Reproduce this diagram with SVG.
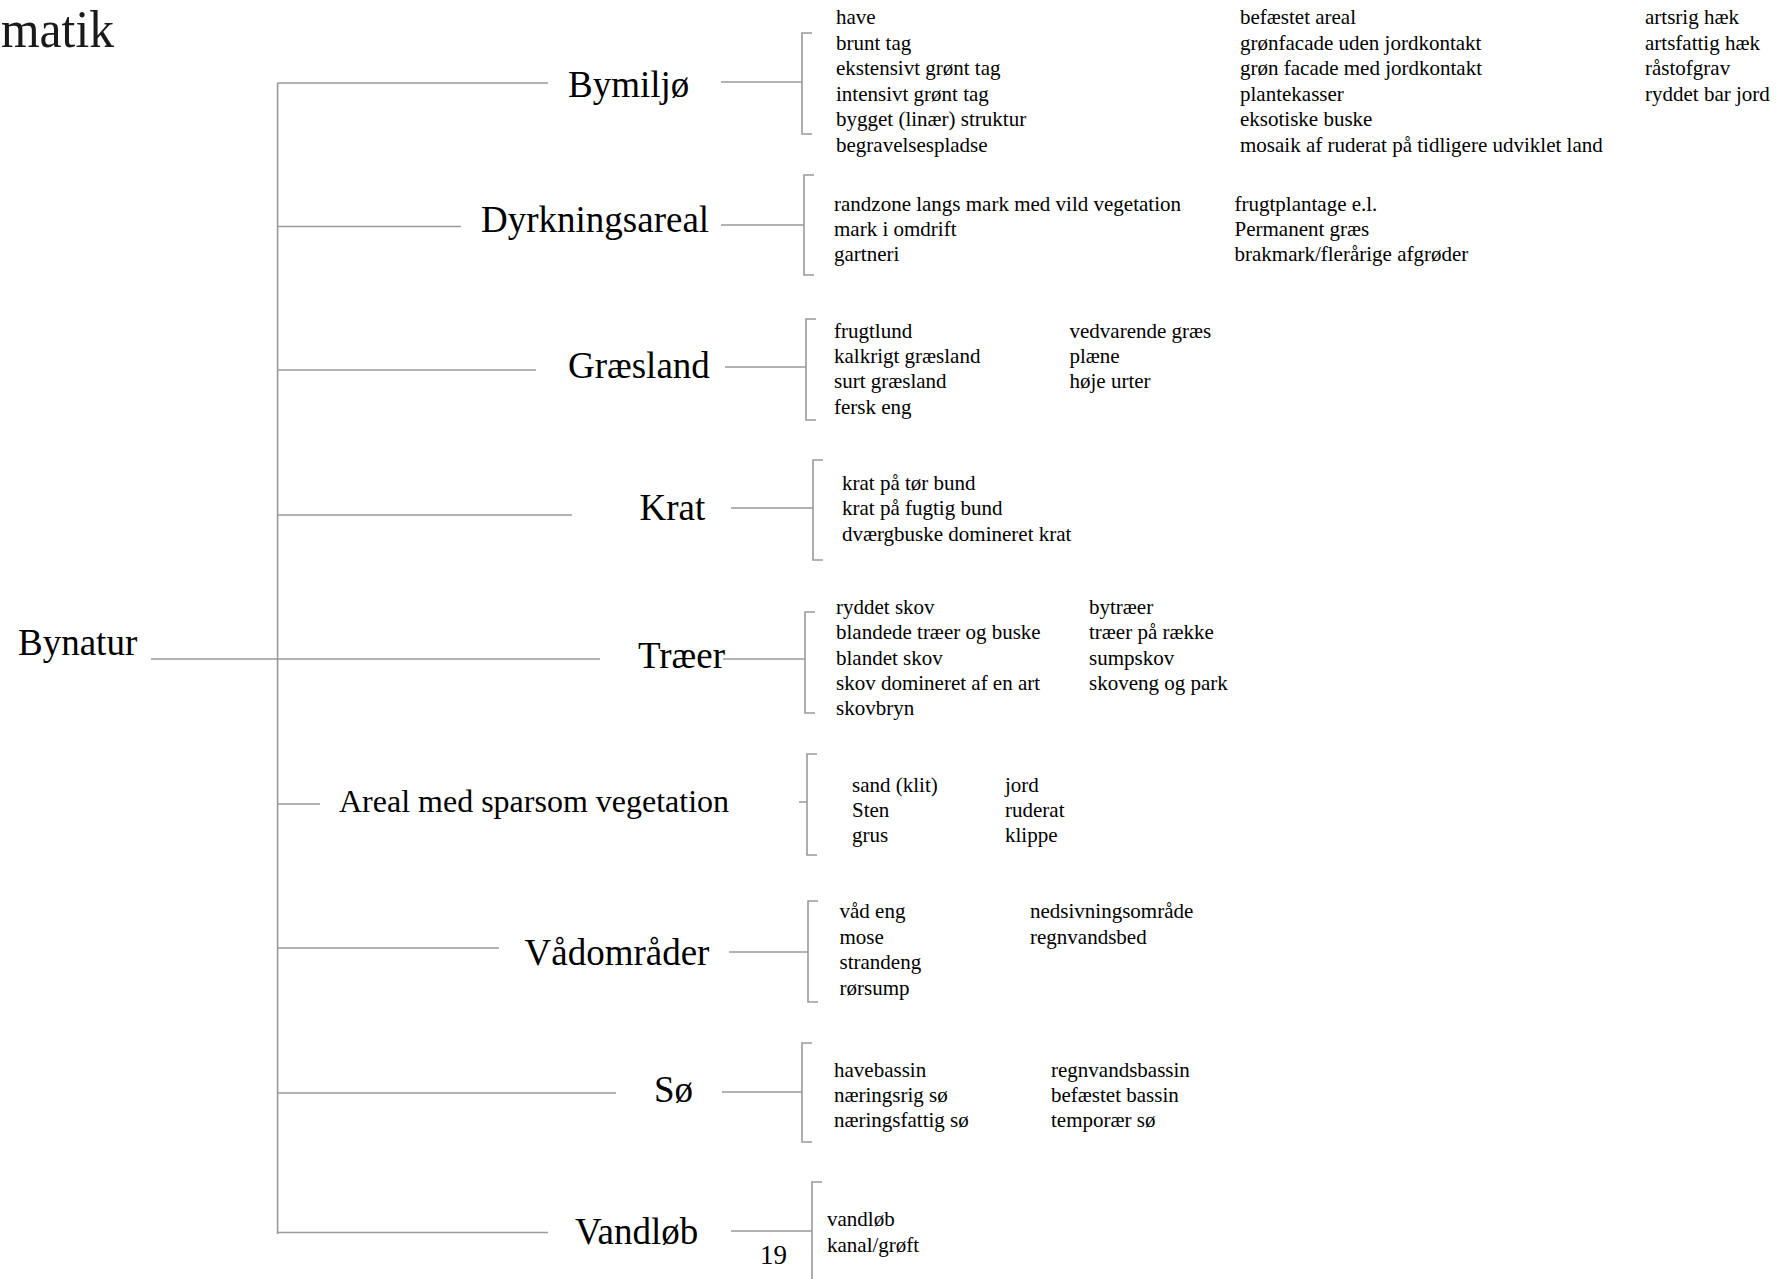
<svg xmlns="http://www.w3.org/2000/svg" width="1784" height="1279" viewBox="0 0 1784 1279">
<style>
text{font-family:"Liberation Serif","Times New Roman",serif;fill:#000}
.t{font-size:52px;fill:#1a1a1a}
.c{font-size:37px}
.a{font-size:32px}
.i{font-size:21px}
.p{font-size:27px}
.ln{fill:none;stroke:#9a9a9a;stroke-width:1.6}
</style>
<rect width="1784" height="1279" fill="#fff"/>
<text class="t" x="1" y="47" textLength="113" lengthAdjust="spacingAndGlyphs">matik</text>
<g id="connectors" class="ln">
<path d="M151 659H600M277.6 83V1234M277.6 83H548M277.6 226.5H461M277.6 370H536M277.6 515H572M277.6 804H320M277.6 948H499M277.6 1093H616M277.6 1232.5H548"/>
<path d="M721 82H802M812 33H802V134H812"/>
<path d="M721 225H804M814 175H804V275H814"/>
<path d="M725 367H806M816 319H806V420H816"/>
<path d="M731 508H813M823 460H813V560H823"/>
<path d="M723 659H805M815 612H805V713H815"/>
<path d="M799 802H807M817 754H807V855H817"/>
<path d="M729 952H808M818 901H808V1002H818"/>
<path d="M722 1092H802M812 1043H802V1142H812"/>
<path d="M731 1231H812M822 1182H812V1285"/>
</g>
<g id="bynatur"><text class="c" x="18" y="655">Bynatur</text></g>
<g id="bymiljo">
<text class="c" x="568" y="97">Bymiljø</text>
<text class="i" x="836" y="24">have</text>
<text class="i" x="836" y="49.5">brunt tag</text>
<text class="i" x="836" y="75">ekstensivt grønt tag</text>
<text class="i" x="836" y="100.5">intensivt grønt tag</text>
<text class="i" x="836" y="126">bygget (linær) struktur</text>
<text class="i" x="836" y="151.5">begravelsespladse</text>
<text class="i" x="1240" y="24">befæstet areal</text>
<text class="i" x="1240" y="49.5">grønfacade uden jordkontakt</text>
<text class="i" x="1240" y="75">grøn facade med jordkontakt</text>
<text class="i" x="1240" y="100.5">plantekasser</text>
<text class="i" x="1240" y="126">eksotiske buske</text>
<text class="i" x="1240" y="151.5">mosaik af ruderat på tidligere udviklet land</text>
<text class="i" x="1645" y="24">artsrig hæk</text>
<text class="i" x="1645" y="49.5">artsfattig hæk</text>
<text class="i" x="1645" y="75">råstofgrav</text>
<text class="i" x="1645" y="100.5">ryddet bar jord</text>
</g>
<g id="dyrkningsareal">
<text class="c" x="481" y="232">Dyrkningsareal</text>
<text class="i" x="834" y="211">randzone langs mark med vild vegetation</text>
<text class="i" x="834" y="236">mark i omdrift</text>
<text class="i" x="834" y="261">gartneri</text>
<text class="i" x="1234.5" y="211">frugtplantage e.l.</text>
<text class="i" x="1234.5" y="236">Permanent græs</text>
<text class="i" x="1234.5" y="261">brakmark/flerårige afgrøder</text>
</g>
<g id="graesland">
<text class="c" x="568" y="378">Græsland</text>
<text class="i" x="834" y="338">frugtlund</text>
<text class="i" x="834" y="363">kalkrigt græsland</text>
<text class="i" x="834" y="388">surt græsland</text>
<text class="i" x="834" y="413.5">fersk eng</text>
<text class="i" x="1069.5" y="338">vedvarende græs</text>
<text class="i" x="1069.5" y="363">plæne</text>
<text class="i" x="1069.5" y="388">høje urter</text>
</g>
<g id="krat">
<text class="c" x="639.5" y="520">Krat</text>
<text class="i" x="842" y="490">krat på tør bund</text>
<text class="i" x="842" y="515">krat på fugtig bund</text>
<text class="i" x="842" y="541">dværgbuske domineret krat</text>
</g>
<g id="traeer">
<text class="c" x="638" y="668">Træer</text>
<text class="i" x="836" y="613.5">ryddet skov</text>
<text class="i" x="836" y="639">blandede træer og buske</text>
<text class="i" x="836" y="664.5">blandet skov</text>
<text class="i" x="836" y="690">skov domineret af en art</text>
<text class="i" x="836" y="715">skovbryn</text>
<text class="i" x="1089" y="613.5">bytræer</text>
<text class="i" x="1089" y="639">træer på række</text>
<text class="i" x="1089" y="664.5">sumpskov</text>
<text class="i" x="1089" y="690">skoveng og park</text>
</g>
<g id="areal">
<text class="a" x="339" y="812">Areal med sparsom vegetation</text>
<text class="i" x="852" y="791.5">sand (klit)</text>
<text class="i" x="852" y="816.5">Sten</text>
<text class="i" x="852" y="842">grus</text>
<text class="i" x="1005" y="791.5">jord</text>
<text class="i" x="1005" y="816.5">ruderat</text>
<text class="i" x="1005" y="842">klippe</text>
</g>
<g id="vadomrader">
<text class="c" x="524.5" y="965">Vådområder</text>
<text class="i" x="839.5" y="918">våd eng</text>
<text class="i" x="839.5" y="943.5">mose</text>
<text class="i" x="839.5" y="969">strandeng</text>
<text class="i" x="839.5" y="994.5">rørsump</text>
<text class="i" x="1030" y="918">nedsivningsområde</text>
<text class="i" x="1030" y="943.5">regnvandsbed</text>
</g>
<g id="so">
<text class="c" x="654" y="1102">Sø</text>
<text class="i" x="834" y="1077">havebassin</text>
<text class="i" x="834" y="1102">næringsrig sø</text>
<text class="i" x="834" y="1127">næringsfattig sø</text>
<text class="i" x="1051" y="1077">regnvandsbassin</text>
<text class="i" x="1051" y="1102">befæstet bassin</text>
<text class="i" x="1051" y="1127">temporær sø</text>
</g>
<g id="vandlob">
<text class="c" x="575" y="1244">Vandløb</text>
<text class="i" x="827" y="1226">vandløb</text>
<text class="i" x="827" y="1251.5">kanal/grøft</text>
</g>
<text class="p" x="760" y="1264">19</text>
</svg>
